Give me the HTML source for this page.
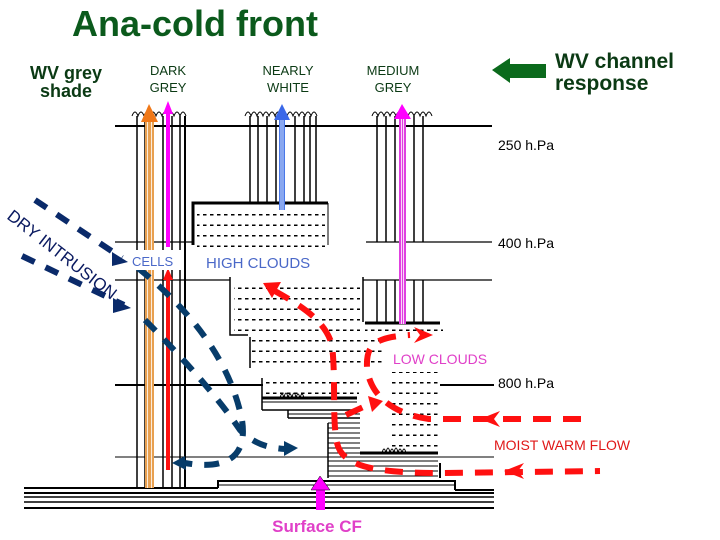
<!DOCTYPE html>
<html><head><meta charset="utf-8"><style>
html,body{margin:0;padding:0;background:#fff;}
svg{display:block;}
text{font-family:"Liberation Sans",Arial,sans-serif;}
</style></head><body>
<svg width="720" height="540" viewBox="0 0 720 540" xmlns="http://www.w3.org/2000/svg">
<defs>
<pattern id="dots" width="7" height="10.5" patternUnits="userSpaceOnUse"><rect x="0" y="4" width="3.5" height="1.5" fill="#000"/></pattern>
</defs>
<!-- headings -->
<text x="195" y="36" font-size="36" font-weight="bold" fill="#0b5a1c" text-anchor="middle">Ana-cold front</text>
<text x="66" y="79" font-size="18" font-weight="bold" fill="#0b3a14" text-anchor="middle">WV grey</text>
<text x="66" y="97" font-size="18" font-weight="bold" fill="#0b3a14" text-anchor="middle">shade</text>
<text x="168" y="75" font-size="13" fill="#0b3a14" text-anchor="middle">DARK</text>
<text x="168" y="92" font-size="13" fill="#0b3a14" text-anchor="middle">GREY</text>
<text x="288" y="75" font-size="13" fill="#0b3a14" text-anchor="middle">NEARLY</text>
<text x="288" y="92" font-size="13" fill="#0b3a14" text-anchor="middle">WHITE</text>
<text x="393" y="75" font-size="13" fill="#0b3a14" text-anchor="middle">MEDIUM</text>
<text x="393" y="92" font-size="13" fill="#0b3a14" text-anchor="middle">GREY</text>
<polygon points="492,70 510,58 510,64 546,64 546,78 510,78 510,83" fill="#0b6a1c"/>
<text x="555" y="68" font-size="21" font-weight="bold" fill="#0b3a14">WV channel</text>
<text x="555" y="90" font-size="21" font-weight="bold" fill="#0b3a14">response</text>

<g stroke="#000" fill="none">
<line x1="115" y1="126" x2="492" y2="126" stroke-width="2"/>
<line x1="115" y1="242" x2="193" y2="242" stroke-width="1.2"/>
<line x1="366" y1="242" x2="492" y2="242" stroke-width="1.2"/>
<line x1="115" y1="280" x2="230" y2="280" stroke-width="1.2"/>
<line x1="363" y1="280" x2="492" y2="280" stroke-width="1.2"/>
<line x1="115" y1="385" x2="263" y2="385" stroke-width="2"/>
<line x1="440" y1="385" x2="494" y2="385" stroke-width="2"/>
<line x1="115" y1="457" x2="494" y2="457" stroke-width="1"/>
<g stroke-width="1.5">
<line x1="137" y1="116" x2="137" y2="488"/><line x1="145" y1="116" x2="145" y2="488"/>
<line x1="163" y1="116" x2="163" y2="488"/><line x1="172" y1="116" x2="172" y2="488"/>
<line x1="180" y1="116" x2="180" y2="488"/><line x1="185" y1="116" x2="185" y2="488" stroke-width="2"/>
</g>
<g stroke-width="1.5">
<line x1="250" y1="116" x2="250" y2="203"/><line x1="258" y1="116" x2="258" y2="203"/>
<line x1="267" y1="116" x2="267" y2="203"/><line x1="276" y1="116" x2="276" y2="203"/>
<line x1="295" y1="116" x2="295" y2="203"/><line x1="304" y1="116" x2="304" y2="203"/>
<line x1="310" y1="116" x2="310" y2="203"/><line x1="316" y1="116" x2="316" y2="203"/>
</g>
<g stroke-width="1.5">
<line x1="377" y1="116" x2="377" y2="242"/><line x1="386" y1="116" x2="386" y2="242"/>
<line x1="395" y1="116" x2="395" y2="242"/><line x1="414" y1="116" x2="414" y2="242"/>
<line x1="423" y1="116" x2="423" y2="242"/>
<line x1="377" y1="280" x2="377" y2="323"/><line x1="386" y1="280" x2="386" y2="323"/>
<line x1="395" y1="280" x2="395" y2="323"/><line x1="414" y1="280" x2="414" y2="323"/>
<line x1="423" y1="280" x2="423" y2="323"/>
</g>
<path d="M132,116 q3,-8 6,0 q3,-8 6,0 q3,-8 6,0 q3,-8 6,0 q3,-8 6,0 q3,-8 6,0 q3,-8 6,0 q3,-8 6,0 q3,-8 6,0" stroke-width="1"/>
<path d="M245,116 q3,-8 6,0 q3,-8 6,0 q3,-8 6,0 q3,-8 6,0 q3,-8 6,0 q3,-8 6,0 q3,-8 6,0 q3,-8 6,0 q3,-8 6,0 q3,-8 6,0 q3,-8 6,0 q3,-8 6,0" stroke-width="1"/>
<path d="M372,116 q3,-8 6,0 q3,-8 6,0 q3,-8 6,0 q3,-8 6,0 q3,-8 6,0 q3,-8 6,0 q3,-8 6,0 q3,-8 6,0 q3,-8 6,0 q3,-8 6,0" stroke-width="1"/>
<path d="M193,245 V203 H328" stroke-width="3"/>
<line x1="328" y1="203" x2="328" y2="245" stroke-width="1"/>
<path d="M230,277 V335 H248" stroke-width="1.5"/>
<line x1="363" y1="277" x2="363" y2="322" stroke-width="1.5"/>
<line x1="365" y1="323" x2="440" y2="323" stroke-width="3"/>
<line x1="250" y1="337" x2="250" y2="368" stroke-width="1.5"/>
<path d="M262,410 V378" stroke-width="1.5"/>
<line x1="262" y1="398" x2="357" y2="398" stroke-width="3"/>
<line x1="262" y1="402" x2="357" y2="402" stroke-width="1"/>
<line x1="262" y1="410" x2="357" y2="410" stroke-width="1.5"/>
<line x1="288" y1="410" x2="288" y2="418" stroke-width="1.5"/>
<line x1="288" y1="414" x2="360" y2="414" stroke-width="1"/>
<line x1="288" y1="418" x2="360" y2="418" stroke-width="1.5"/>
<path d="M280,398 q2,-8 4,0 q2,-10 4,0 q2,-8 4,0 q2,-10 4,0 q2,-8 4,0 q2,-8 4,0" stroke-width="1"/>
<line x1="328" y1="423" x2="328" y2="478" stroke-width="1.5"/>
<g stroke-width="1">
<line x1="328" y1="423" x2="360" y2="423"/><line x1="328" y1="428" x2="360" y2="428"/>
<line x1="328" y1="433" x2="360" y2="433"/><line x1="328" y1="438" x2="360" y2="438"/>
<line x1="328" y1="443" x2="360" y2="443"/><line x1="328" y1="448" x2="360" y2="448"/>
<line x1="328" y1="453" x2="360" y2="453"/><line x1="328" y1="461" x2="438" y2="461"/>
<line x1="328" y1="466" x2="438" y2="466"/><line x1="328" y1="471" x2="438" y2="471"/>
<line x1="328" y1="476" x2="438" y2="476"/>
</g>
<line x1="360" y1="453" x2="438" y2="453" stroke-width="3"/>
<line x1="440" y1="463" x2="440" y2="478" stroke-width="2"/>
<path d="M382,453 q2,-8 4,0 q2,-10 4,0 q2,-8 4,0 q2,-10 4,0 q2,-8 4,0 q2,-8 4,0" stroke-width="1"/>
<path d="M218,488 V481 H455 V490" stroke-width="2"/>
<line x1="218" y1="485" x2="455" y2="485" stroke-width="1"/>
<line x1="24" y1="488" x2="218" y2="488" stroke-width="2"/>
<line x1="455" y1="490" x2="494" y2="490" stroke-width="2"/>
<line x1="24" y1="493" x2="494" y2="493" stroke-width="2"/>
<line x1="24" y1="497" x2="494" y2="497" stroke-width="1.5"/>
<line x1="24" y1="502" x2="494" y2="502" stroke-width="1.5"/>
<line x1="24" y1="508" x2="494" y2="508" stroke-width="2"/>
</g>
<rect x="197" y="207" width="128" height="40" fill="url(#dots)"/>
<rect x="234" y="280" width="126" height="55" fill="url(#dots)"/>
<rect x="252" y="336" width="130" height="34" fill="url(#dots)"/>
<rect x="365" y="326" width="78" height="12" fill="url(#dots)"/>
<rect x="264" y="373" width="95" height="22" fill="url(#dots)"/>
<rect x="390" y="372" width="50" height="80" fill="url(#dots)"/>

<g>
<rect x="145" y="120" width="9" height="368" fill="#e8a050"/>
<line x1="147.5" y1="120" x2="147.5" y2="488" stroke="#fff" stroke-width="0.8"/>
<line x1="151.5" y1="120" x2="151.5" y2="488" stroke="#fff" stroke-width="0.8"/>
<polygon points="141,122 149,104 158,122" fill="#f07818"/>
<rect x="166" y="112" width="4" height="135" fill="#ff00ff"/>
<polygon points="163,114 168,101 173,114" fill="#ff00ff"/>
<rect x="166" y="280" width="4" height="190" fill="#ff1010"/>
<polygon points="163,280 168,268 173,280" fill="#ff1010"/>
<rect x="279" y="118" width="6" height="92" fill="#4a78e8"/>
<line x1="281" y1="118" x2="281" y2="210" stroke="#fff" stroke-width="0.7"/>
<line x1="283" y1="118" x2="283" y2="210" stroke="#fff" stroke-width="0.7"/>
<polygon points="274,120 282,104 290,120" fill="#3a68e8"/>
<rect x="399" y="116" width="7" height="208" fill="#e040e0"/>
<line x1="401.5" y1="116" x2="401.5" y2="324" stroke="#fff" stroke-width="0.8"/>
<line x1="403.5" y1="116" x2="403.5" y2="324" stroke="#fff" stroke-width="0.8"/>
<polygon points="394,119 402,104 411,119" fill="#ff00ff"/>
<rect x="316" y="488" width="9" height="22" fill="#ff00ff"/>
<polygon points="311,490 320,476 330,490" fill="#ff00ff" stroke="#000" stroke-width="0.5"/>
</g>

<g fill="none" stroke="#0a2a6a" stroke-width="6" stroke-dasharray="14,12">
<path d="M35,200 L122,258"/>
<path d="M22,256 L124,305"/>
</g>
<polygon points="112,252 128,262 112,266" fill="#0a2a6a"/>
<polygon points="113,298 131,308 113,313" fill="#0a2a6a"/>
<g fill="none" stroke="#073c6a" stroke-width="6" stroke-dasharray="15,12">
<path d="M138,268 C190,310 230,360 242,420 C248,458 225,470 185,463"/>
<path d="M145,320 C185,360 220,400 240,430 C255,445 270,448 285,449"/>
</g>
<polygon points="185,456 172,463 186,470" fill="#073c6a"/>
<polygon points="284,441 298,448 284,456" fill="#073c6a"/>
<text transform="translate(6,218) rotate(38)" font-size="17" fill="#0a1a60">DRY INTRUSION</text>

<g fill="none" stroke="#ff1010" stroke-width="6" stroke-dasharray="18,12">
<path d="M273,290 C300,305 325,320 332,345 C336,380 332,420 337,443 C342,465 370,473 440,473 L600,471"/>
<path d="M581,419 L429,419 C400,415 370,400 367,367 C366,345 375,337 410,335"/>
<path d="M346,415 L372,403"/>
</g>
<polygon points="263,283 281,282 272,298" fill="#ff1010"/>
<polygon points="414,327 433,335 414,343 420,335" fill="#ff1010"/>
<polygon points="500,411 480,419 500,427 494,419" fill="#ff1010"/>
<polygon points="524,463 504,471 524,479 518,471" fill="#ff1010"/>
<polygon points="368,396 383,401 372,412" fill="#ff1010"/>

<rect x="128" y="250" width="56" height="20" fill="#fff"/>
<text x="132" y="266" font-size="13" fill="#4a68c8">CELLS</text>
<text x="206" y="268" font-size="15" fill="#4a68c8">HIGH CLOUDS</text>
<text x="393" y="364" font-size="14" fill="#e040c8">LOW CLOUDS</text>
<text x="498" y="150" font-size="14" fill="#000">250 h.Pa</text>
<text x="498" y="248" font-size="14" fill="#000">400 h.Pa</text>
<text x="498" y="388" font-size="14" fill="#000">800 h.Pa</text>
<text x="494" y="450" font-size="14" fill="#e01818">MOIST WARM FLOW</text>
<text x="317" y="532" font-size="17" font-weight="bold" fill="#e040c8" text-anchor="middle">Surface CF</text>
</svg>
</body></html>
